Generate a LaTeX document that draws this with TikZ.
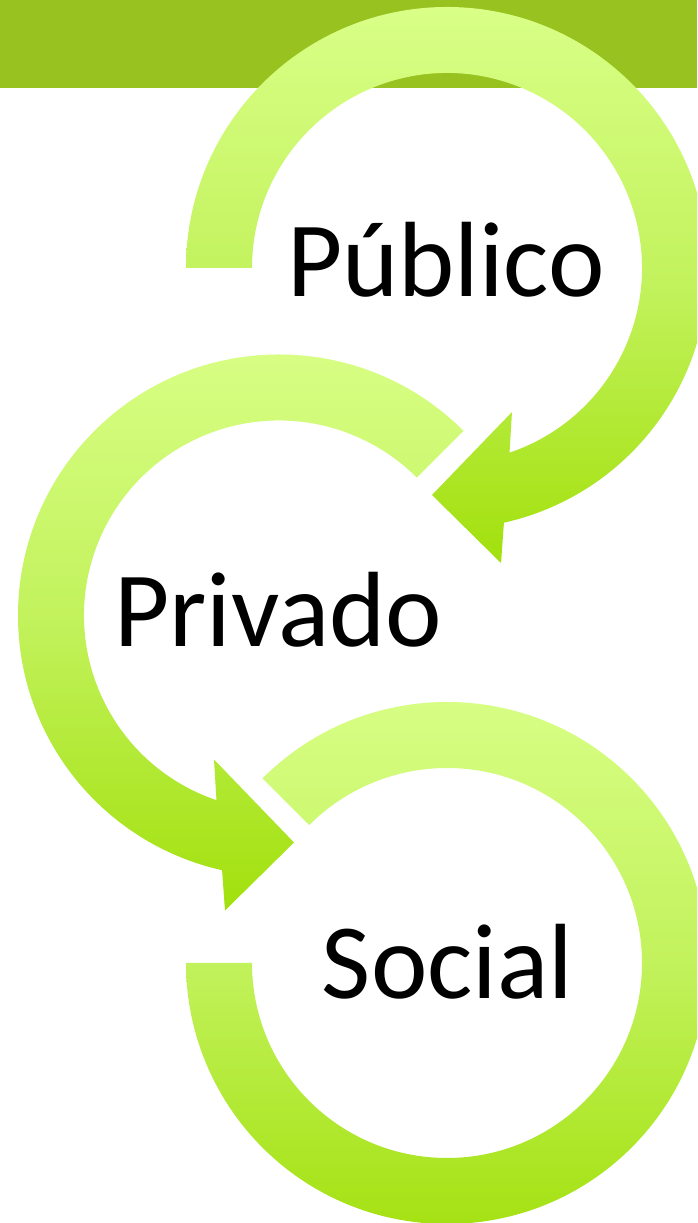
\documentclass[tikz,border=0pt]{standalone}
\usepackage{fontspec}
\setmainfont{Carlito}
\definecolor{barcol}{HTML}{98C21F}
\definecolor{lgA}{HTML}{D9FF87}
\definecolor{lgB}{HTML}{C2F25C}
\definecolor{lgC}{HTML}{A2E00C}
\tikzset{
  ring/.style={top color=lgA, bottom color=lgC, middle color=lgB, draw=none},
  lbl/.style={inner sep=0pt, anchor=base, text=black, font=\fontsize{107}{124}\selectfont}
}
\begin{document}
\begin{tikzpicture}[x=1pt,y=1pt]
\useasboundingbox (0,0) rectangle (697,1223);
\clip (0,0) rectangle (697,1223);
\fill[white] (0,0) rectangle (697,1223);
% top bar
\fill[barcol] (0,1135) rectangle (697,1223);
% centres
\coordinate (c1) at (447,955);
\coordinate (c2) at (279,607.5);
\coordinate (c3) at (447,260);
% ring 1 (Publico)
\path[ring] ([shift={(c1)}]180:261pt) arc[start angle=180,end angle=-77.4,radius=261pt]
  -- ([shift={(c1)}]54,-295) -- ([shift={(c1)}]-15,-227) -- ([shift={(c1)}]65,-144)
  -- ([shift={(c1)}]-71.3:195pt) arc[start angle=-71.3,end angle=180,radius=195pt] -- cycle;
% ring 2 (Privado)
\path[ring] ([shift={(c2)}]45:261pt) arc[start angle=45,end angle=257.4,radius=261pt]
  -- ([shift={(c2)}]-54,-295) -- ([shift={(c2)}]15,-227) -- ([shift={(c2)}]-65,-144)
  -- ([shift={(c2)}]251.3:195pt) arc[start angle=251.3,end angle=45,radius=195pt] -- cycle;
% ring 3 (Social)
\path[ring] ([shift={(c3)}]135:261pt) arc[start angle=135,end angle=-180,radius=261pt]
  -- ([shift={(c3)}]180:195pt) arc[start angle=-180,end angle=135,radius=195pt] -- cycle;
% labels
\node[lbl] (pub) at (446,926) {Público};
\node[lbl] (pri) at (278,576) {Privado};
\node[lbl] (soc) at (447.5,224) {Social};
\end{tikzpicture}
\end{document}
